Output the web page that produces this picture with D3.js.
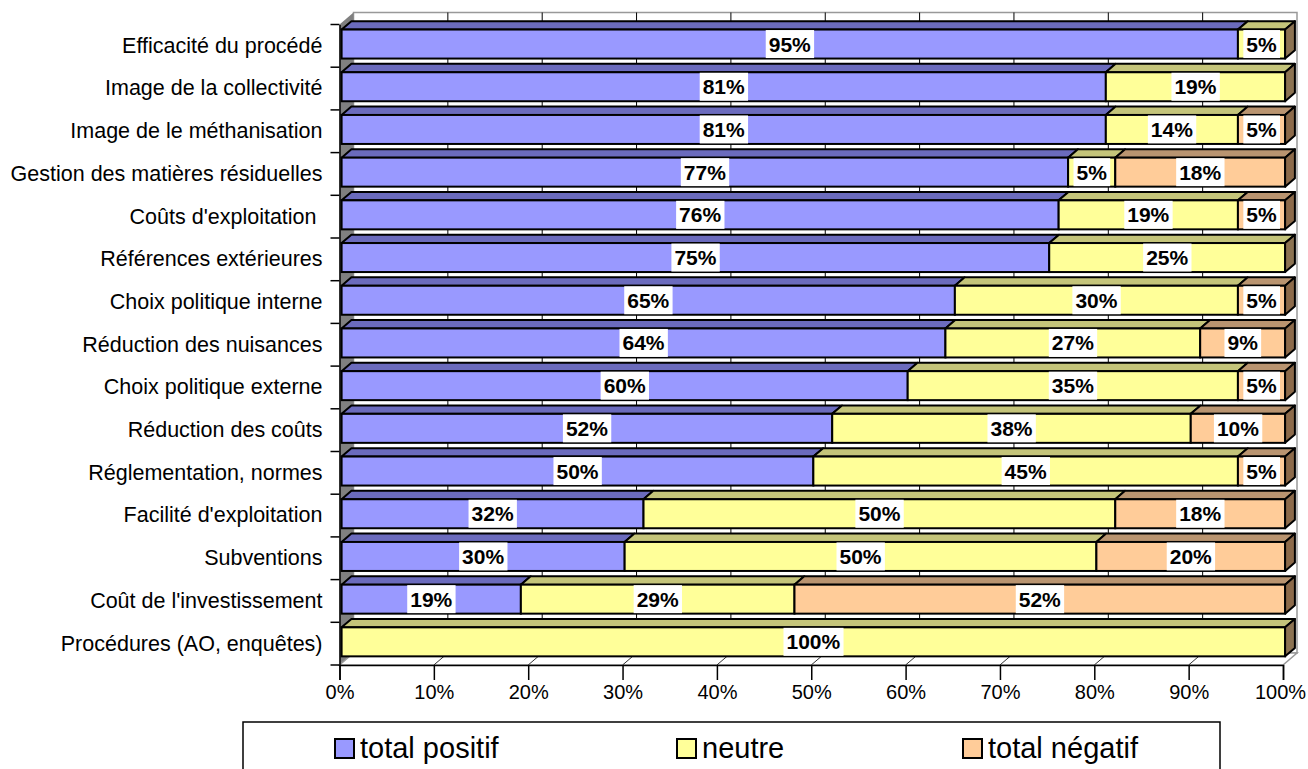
<!DOCTYPE html>
<html>
<head>
<meta charset="utf-8">
<script src="https://cdn.jsdelivr.net/npm/d3@7"></script>
<style>
  html, body { margin: 0; padding: 0; background: #fff; }
  svg { display: block; font-family: "Liberation Sans", Arial, sans-serif; }
</style>
</head>
<body>
<svg id="chart" width="1308" height="769"></svg>
<script>
// Categories, top to bottom
const categories = [
  "Efficacité du procédé",
  "Image de la collectivité",
  "Image de le méthanisation",
  "Gestion des matières résiduelles",
  "Coûts d'exploitation\u00a0",
  "Références extérieures",
  "Choix politique interne",
  "Réduction des nuisances",
  "Choix politique externe",
  "Réduction des coûts",
  "Réglementation, normes",
  "Facilité d'exploitation",
  "Subventions",
  "Coût de l'investissement",
  "Procédures (AO, enquêtes)"
];

// Shares in percent, one array per series
const totalPositif = [95, 81, 81, 77, 76, 75, 65, 64, 60, 52, 50, 32, 30, 19, 0];
const neutre       = [5, 19, 14, 5, 19, 25, 30, 27, 35, 38, 45, 50, 50, 29, 100];
const totalNegatif = [0, 0, 5, 18, 5, 0, 5, 9, 5, 10, 5, 18, 20, 52, 0];

const seriesNames = ["total positif", "neutre", "total négatif"];
const xTicks = [0, 0.1, 0.2, 0.3, 0.4, 0.5, 0.6, 0.7, 0.8, 0.9, 1];

const colors = {
  front: ["#9999ff", "#ffff99", "#ffcc99"],
  top:   ["#6b6bbd", "#c4c47a", "#b99470"],
  side:  ["#555599", "#8c7352", "#8c6a4a"]
};

const svg = d3.select("#chart");

// Front plane of the plot and oblique depth vector
const X0 = 339.5, X1 = 1283, Y0 = 24.5, Y1 = 665;
const D = { dx: 14, dy: -12 };
const fFront = 0.15, fBack = 0.85;
const barH = 29;

const x = d3.scaleLinear().domain([0, 1]).range([X0, X1]);
const y = d3.scaleBand().domain(categories).range([Y0, Y1]);

// Back wall
svg.append("rect")
  .attr("x", X0 + D.dx).attr("y", Y0 + D.dy)
  .attr("width", X1 - X0).attr("height", Y1 - Y0)
  .attr("fill", "#fff").attr("stroke", "#999").attr("stroke-width", 1.5);

// Left side wall
svg.append("polygon")
  .attr("points", [[X0, Y0], [X0 + D.dx, Y0 + D.dy], [X0 + D.dx, Y1 + D.dy], [X0, Y1]].join(" "))
  .attr("fill", "#808080");

// Floor
svg.append("polygon")
  .attr("points", [[X0, Y1], [X1, Y1], [X1 + D.dx, Y1 + D.dy], [X0 + D.dx, Y1 + D.dy]].join(" "))
  .attr("fill", "#fff").attr("stroke", "#999").attr("stroke-width", 1.5);

// Gridlines on back wall and floor
const grid = svg.append("g");
xTicks.slice(1, -1).forEach(t => {
  grid.append("line")
    .attr("x1", x(t) + D.dx).attr("x2", x(t) + D.dx)
    .attr("y1", Y0 + D.dy).attr("y2", Y1 + D.dy)
    .attr("stroke", "#000").attr("stroke-width", 1);
  grid.append("line")
    .attr("x1", x(t)).attr("y1", Y1)
    .attr("x2", x(t) + D.dx).attr("y2", Y1 + D.dy)
    .attr("stroke", "#333").attr("stroke-width", 1);
});

// Stacked 3D bars
const stackData = categories.map((c, i) => ({
  cat: c,
  vals: [totalPositif[i], neutre[i], totalNegatif[i]]
}));

const bars = svg.append("g");
const ox = fFront * D.dx, oy = fFront * D.dy;
const bx = fBack * D.dx, by = fBack * D.dy;

stackData.forEach(row => {
  const yc = y(row.cat) + y.bandwidth() / 2;
  const yt = yc - barH / 2, yb = yc + barH / 2;
  let acc = 0;
  const segs = [];
  row.vals.forEach((v, s) => {
    if (v > 0) segs.push({ s, v, a: acc / 100, b: (acc + v) / 100 });
    acc += v;
  });
  const g = bars.append("g");
  segs.forEach((sg, k) => {
    const xa = x(sg.a), xb = x(sg.b);
    // top face
    g.append("polygon")
      .attr("points", [[xa + ox, yt + oy], [xb + ox, yt + oy], [xb + bx, yt + by], [xa + bx, yt + by]].join(" "))
      .attr("fill", colors.top[sg.s]).attr("stroke", "#000").attr("stroke-width", 2)
      .attr("stroke-linejoin", "round");
    // front face
    g.append("rect")
      .attr("x", xa + ox).attr("y", yt + oy)
      .attr("width", xb - xa).attr("height", barH)
      .attr("fill", colors.front[sg.s]).attr("stroke", "#000").attr("stroke-width", 2);
    // right side face on the last segment
    if (k === segs.length - 1) {
      g.append("polygon")
        .attr("points", [[xb + ox, yt + oy], [xb + bx, yt + by], [xb + bx, yb + by], [xb + ox, yb + oy]].join(" "))
        .attr("fill", colors.side[sg.s]).attr("stroke", "#000").attr("stroke-width", 2)
        .attr("stroke-linejoin", "round");
    }
  });
  // value labels
  segs.forEach(sg => {
    const cx = (x(sg.a) + x(sg.b)) / 2 + ox;
    const cy = yc + oy;
    const lg = g.append("g");
    const t = lg.append("text")
      .attr("x", cx).attr("y", cy + 7.5)
      .attr("text-anchor", "middle")
      .attr("font-size", 21).attr("font-weight", "bold")
      .attr("fill", "#000")
      .text(sg.v + "%");
    const bb = t.node().getBBox();
    lg.insert("rect", "text")
      .attr("x", bb.x - 3).attr("y", cy - 14)
      .attr("width", bb.width + 6).attr("height", 28)
      .attr("fill", "#fff");
  });
});

// Category axis
const yAxis = svg.append("g")
  .attr("transform", `translate(${X0},0)`)
  .call(d3.axisLeft(y).tickSize(0).tickPadding(17));
yAxis.select(".domain").attr("stroke", "#000").attr("stroke-width", 1.5);
yAxis.selectAll("text").attr("font-size", 21.5).attr("fill", "#000")
  .attr("font-family", "Liberation Sans, Arial, sans-serif");
categories.concat([null]).forEach((c, i) => {
  const yy = c ? y(c) : Y1;
  yAxis.append("line").attr("x1", -9).attr("x2", 0)
    .attr("y1", yy).attr("y2", yy).attr("stroke", "#000").attr("stroke-width", 1.5);
});

// Value axis
const xAxis = svg.append("g")
  .attr("transform", `translate(0,${Y1})`)
  .call(d3.axisBottom(x).tickValues(xTicks).tickFormat(d3.format(".0%")).tickSize(15).tickPadding(5));
xAxis.select(".domain").attr("stroke", "#000").attr("stroke-width", 1.5);
xAxis.selectAll(".tick line").attr("stroke", "#000").attr("stroke-width", 1.5);
xAxis.selectAll("text").attr("font-size", 20).attr("fill", "#000")
  .attr("font-family", "Liberation Sans, Arial, sans-serif");
// keep the last tick label inside the frame
xAxis.selectAll(".tick text").filter(d => d === 1).attr("dx", -3);

// Legend
const legend = svg.append("g");
legend.append("rect")
  .attr("x", 243).attr("y", 722).attr("width", 977).attr("height", 80)
  .attr("fill", "#fff").attr("stroke", "#000").attr("stroke-width", 1.5);
const legendX = [335, 677, 963];
seriesNames.forEach((name, s) => {
  legend.append("rect")
    .attr("x", legendX[s]).attr("y", 739).attr("width", 19).attr("height", 19)
    .attr("fill", colors.front[s]).attr("stroke", "#000").attr("stroke-width", 2);
  legend.append("text")
    .attr("x", legendX[s] + 25).attr("y", 758)
    .attr("font-size", 29).attr("fill", "#000")
    .text(name);
});
</script>
</body>
</html>
